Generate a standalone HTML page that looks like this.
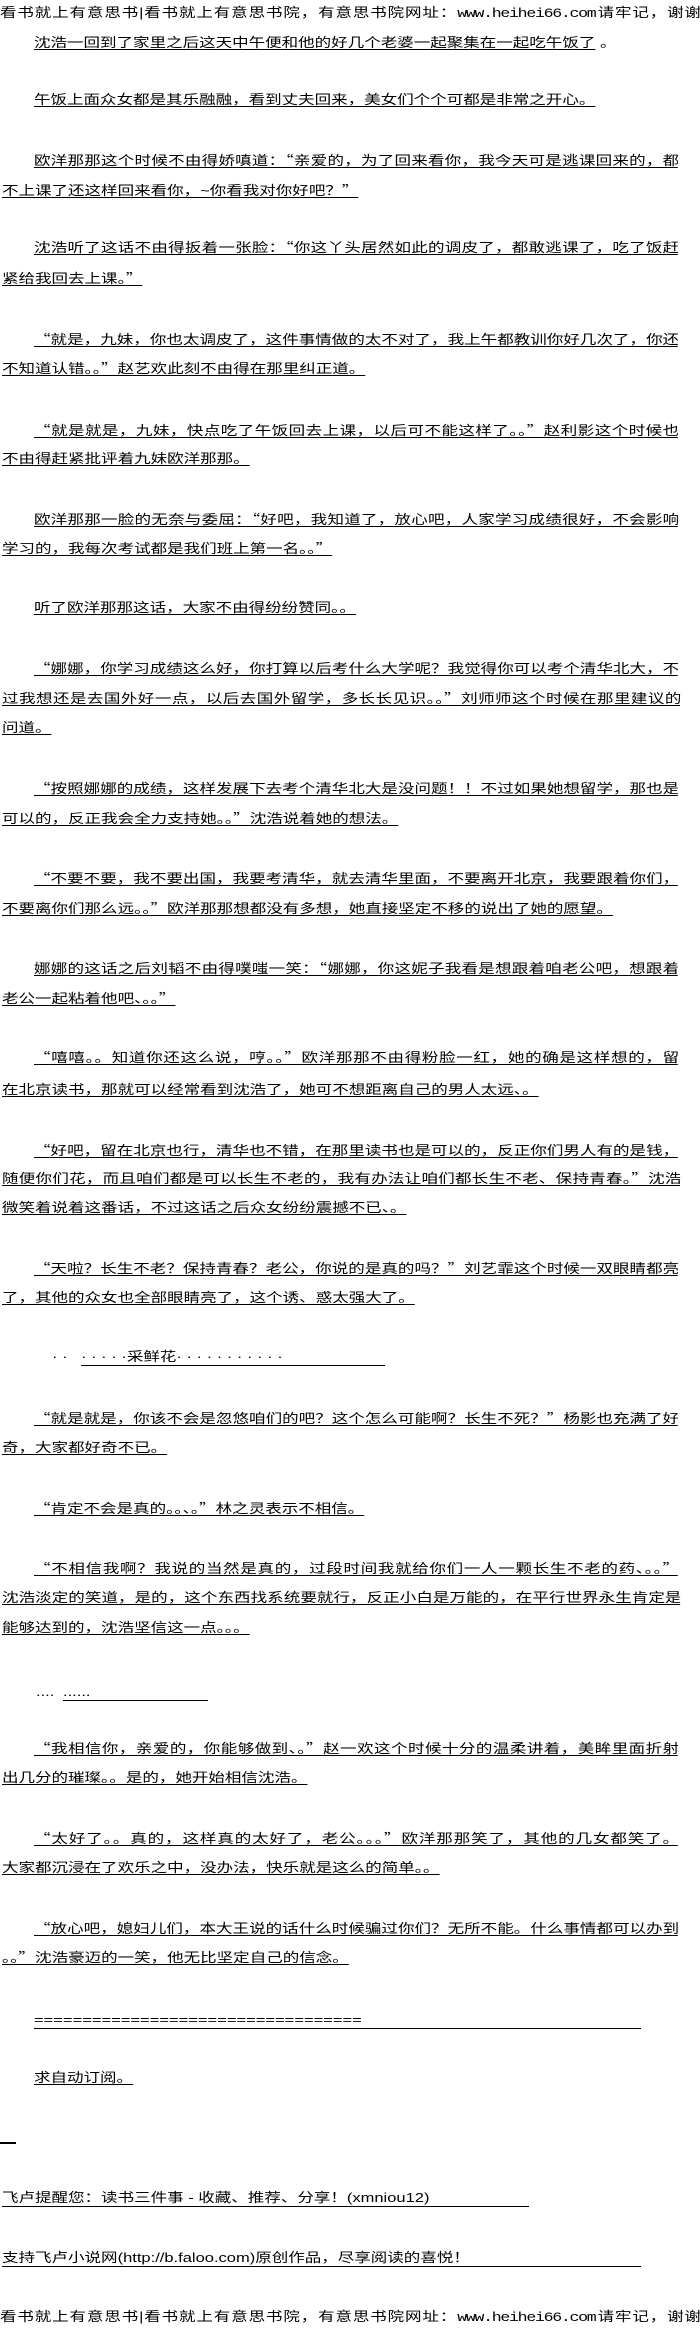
<!DOCTYPE html>
<html><head><meta charset="utf-8"><style>
html,body{margin:0;padding:0;background:#fff;}
body{width:700px;height:2330px;position:relative;overflow:hidden;}
.l{position:absolute;height:20px;line-height:20px;font-size:13px;color:#000;
font-family:"Liberation Sans","Noto Sans CJK SC",sans-serif;
transform:scaleX(1.27);transform-origin:0 0;white-space:nowrap;
text-decoration:underline;text-decoration-thickness:1px;text-underline-offset:2px;}
.f{white-space:normal;text-align:justify;text-align-last:justify;letter-spacing:-1px;overflow:hidden;}
.a{left:34px;}
.b{left:2px;}
.a.f{width:507px;}
.b.f{width:534px;}
.n{text-decoration:none;}
.m{font-family:"Liberation Mono","Noto Sans CJK SC",monospace;}
q{quotes:none;font-family:"Noto Sans CJK SC",sans-serif;}
q:before,q:after{content:none;}
.u{position:absolute;height:1px;background:#000;}
</style></head><body>
<div class="l n f" style="left:0;top:3px;width:551px;">看书就上有意思书|看书就上有意思书院，有意思书院网址：<span class="m">www.heihei66.com</span>请牢记，谢谢</div>

<div class="l a" style="top:33px">沈浩一回到了家里之后这天中午便和他的好几个老婆一起聚集在一起吃午饭了</div><div class="l n" style="left:600px;top:33px">。</div>
<div class="l a" style="top:90px">午饭上面众女都是其乐融融，看到丈夫回来，美女们个个可都是非常之开心。</div>

<div class="l a f" style="top:150px">欧洋那那这个时候不由得娇嗔道：<q>“</q>亲爱的，为了回来看你，我今天可是逃课回来的，都</div>
<div class="l b" style="top:180px">不上课了还这样回来看你，~你看我对你好吧？<q>”</q></div>

<div class="l a f" style="top:237px">沈浩听了这话不由得扳着一张脸：<q>“</q>你这丫头居然如此的调皮了，都敢逃课了，吃了饭赶</div>
<div class="l b" style="top:268px">紧给我回去上课。<q>”</q></div>

<div class="l a f" style="top:329px"><q>“</q>就是，九妹，你也太调皮了，这件事情做的太不对了，我上午都教训你好几次了，你还</div>
<div class="l b" style="top:358px">不知道认错。。<q>”</q>赵艺欢此刻不由得在那里纠正道。</div>

<div class="l a f" style="top:420px"><q>“</q>就是就是，九妹，快点吃了午饭回去上课，以后可不能这样了。。<q>”</q>赵利影这个时候也</div>
<div class="l b" style="top:449px">不由得赶紧批评着九妹欧洋那那。</div>

<div class="l a f" style="top:509px">欧洋那那一脸的无奈与委屈：<q>“</q>好吧，我知道了，放心吧，人家学习成绩很好，不会影响</div>
<div class="l b" style="top:538px">学习的，我每次考试都是我们班上第一名。。<q>”</q></div>

<div class="l a" style="top:598px">听了欧洋那那这话，大家不由得纷纷赞同。。</div>

<div class="l a f" style="top:658px"><q>“</q>娜娜，你学习成绩这么好，你打算以后考什么大学呢？我觉得你可以考个清华北大，不</div>
<div class="l b f" style="top:688px">过我想还是去国外好一点，以后去国外留学，多长长见识。。<q>”</q>刘师师这个时候在那里建议的</div>
<div class="l b" style="top:718px">问道。</div>

<div class="l a f" style="top:778px"><q>“</q>按照娜娜的成绩，这样发展下去考个清华北大是没问题！！不过如果她想留学，那也是</div>
<div class="l b" style="top:808px">可以的，反正我会全力支持她。。<q>”</q>沈浩说着她的想法。</div>

<div class="l a f" style="top:868px"><q>“</q>不要不要，我不要出国，我要考清华，就去清华里面，不要离开北京，我要跟着你们，</div>
<div class="l b" style="top:898px">不要离你们那么远。。<q>”</q>欧洋那那想都没有多想，她直接坚定不移的说出了她的愿望。</div>

<div class="l a f" style="top:958px">娜娜的这话之后刘韬不由得噗嗤一笑：<q>“</q>娜娜，你这妮子我看是想跟着咱老公吧，想跟着</div>
<div class="l b" style="top:988px">老公一起粘着他吧、。。<q>”</q></div>

<div class="l a f" style="top:1047px"><q>“</q>嘻嘻。。知道你还这么说，哼。。<q>”</q>欧洋那那不由得粉脸一红，她的确是这样想的，留</div>
<div class="l b" style="top:1080px">在北京读书，那就可以经常看到沈浩了，她可不想距离自己的男人太远、。</div>

<div class="l a f" style="top:1140px"><q>“</q>好吧，留在北京也行，清华也不错，在那里读书也是可以的，反正你们男人有的是钱，</div>
<div class="l b f" style="top:1168px">随便你们花，而且咱们都是可以长生不老的，我有办法让咱们都长生不老、保持青春。<q>”</q>沈浩</div>
<div class="l b" style="top:1198px">微笑着说着这番话，不过这话之后众女纷纷震撼不已、。</div>

<div class="l a f" style="top:1258px"><q>“</q>天啦？长生不老？保持青春？老公，你说的是真的吗？<q>”</q>刘艺霏这个时候一双眼睛都亮</div>
<div class="l b" style="top:1288px">了，其他的众女也全部眼睛亮了，这个诱、惑太强大了。</div>

<div class="l n" style="left:52px;top:1347px">· · </div>
<div class="l n" style="left:81px;top:1347px;">· · · · ·采鲜花· · · · · · · · · · ·</div>
<div class="u" style="left:81px;top:1365px;width:304px;"></div>

<div class="l a f" style="top:1408px"><q>“</q>就是就是，你该不会是忽悠咱们的吧？这个怎么可能啊？长生不死？<q>”</q>杨影也充满了好</div>
<div class="l b" style="top:1438px">奇，大家都好奇不已。</div>

<div class="l a" style="top:1498px"><q>“</q>肯定不会是真的。。、。<q>”</q>林之灵表示不相信。</div>

<div class="l a f" style="top:1558px"><q>“</q>不相信我啊？我说的当然是真的，过段时间我就给你们一人一颗长生不老的药、。。<q>”</q></div>
<div class="l b f" style="top:1588px">沈浩淡定的笑道，是的，这个东西找系统要就行，反正小白是万能的，在平行世界永生肯定是</div>
<div class="l b" style="top:1618px">能够达到的，沈浩坚信这一点。。。</div>

<div class="l n" style="left:36px;top:1682px">....</div>
<div class="l n" style="left:63px;top:1682px;">......</div>
<div class="u" style="left:63px;top:1700px;width:145px;"></div>

<div class="l a f" style="top:1738px"><q>“</q>我相信你，亲爱的，你能够做到、。<q>”</q>赵一欢这个时候十分的温柔讲着，美眸里面折射</div>
<div class="l b" style="top:1768px">出几分的璀璨。。是的，她开始相信沈浩。</div>

<div class="l a f" style="top:1828px"><q>“</q>太好了。。真的，这样真的太好了，老公。。。<q>”</q>欧洋那那笑了，其他的几女都笑了。</div>
<div class="l b" style="top:1858px">大家都沉浸在了欢乐之中，没办法，快乐就是这么的简单。。</div>

<div class="l a f" style="top:1918px"><q>“</q>放心吧，媳妇儿们，本大王说的话什么时候骗过你们？无所不能。什么事情都可以办到</div>
<div class="l b" style="top:1947px">。。<q>”</q>沈浩豪迈的一笑，他无比坚定自己的信念。</div>

<div class="l n" style="left:34px;top:2010px;">==================================</div>
<div class="u" style="left:34px;top:2028px;width:607px;"></div>

<div class="l a" style="top:2068px">求自动订阅。</div>

<div style="position:absolute;left:0;top:2142px;width:16px;height:2px;background:#000;"></div>

<div class="l b n" style="top:2188px;">飞卢提醒您：读书三件事 - 收藏、推荐、分享！(xmniou12)</div>
<div class="u" style="left:2px;top:2206px;width:527px;"></div>
<div class="l b n" style="top:2248px;">支持飞卢小说网(http://b.faloo.com)原创作品，尽享阅读的喜悦！</div>
<div class="u" style="left:2px;top:2266px;width:639px;"></div>

<div class="l n f" style="left:0;top:2307px;width:551px;">看书就上有意思书|看书就上有意思书院，有意思书院网址：<span class="m">www.heihei66.com</span>请牢记，谢谢</div>
</body></html>
